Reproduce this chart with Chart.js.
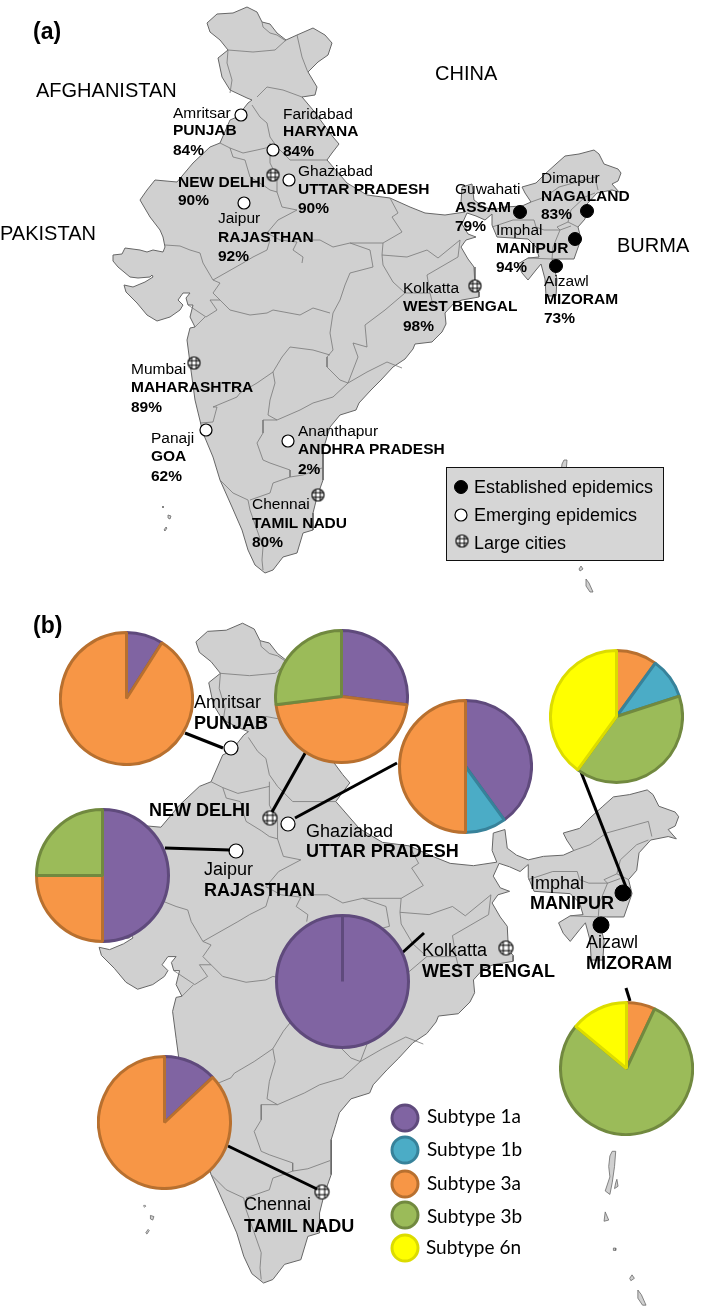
<!DOCTYPE html>
<html>
<head>
<meta charset="utf-8">
<title>HCV subtypes in India</title>
<script src="https://cdn.jsdelivr.net/npm/chart.js@4"></script>
<style>
  body { margin: 0; background: #fff; }
  #page { position: relative; width: 709px; height: 1311px; overflow: hidden; }
  canvas { position: absolute; }
  .txt { position: absolute; white-space: nowrap; line-height: 1; color: #000; font-family: "Liberation Sans", Arial, sans-serif; z-index: 5; }
  #keyBox { position: absolute; left: 446px; top: 467px; width: 216px; height: 92px; background: #d6d6d6; border: 1px solid #111; z-index: 2; }
</style>
</head>
<body>
<div id="page"><div id="keyBox"></div></div>
<script>
// pie values, % of samples, listed clockwise from 12 o'clock
const subtypes = ["Subtype 1a", "Subtype 1b", "Subtype 3a", "Subtype 3b", "Subtype 6n"];
const punjabTypes = ["Subtype 1a", "Subtype 3a"];
const punjabShares = [9, 91];
const delhiTypes = ["Subtype 1a", "Subtype 3a", "Subtype 3b"];
const delhiShares = [27, 46, 27];
const uttarTypes = ["Subtype 1a", "Subtype 1b", "Subtype 3a"];
const uttarShares = [40, 10, 50];
const manipurTypes = ["Subtype 3a", "Subtype 1b", "Subtype 3b", "Subtype 6n"];
const manipurShares = [10, 10, 40, 40];
const rajasthanTypes = ["Subtype 1a", "Subtype 3a", "Subtype 3b"];
const rajasthanShares = [50, 25, 25];
const bengalTypes = ["Subtype 1a"];
const bengalShares = [100];
const tamilTypes = ["Subtype 1a", "Subtype 3a"];
const tamilShares = [13, 87];
const mizoramTypes = ["Subtype 3a", "Subtype 3b", "Subtype 6n"];
const mizoramShares = [7, 79, 14];

const subtypeFill = ["#8064a2", "#4bacc6", "#f79646", "#9bbb59", "#ffff00"];
const subtypeEdge = ["#5f4a7c", "#37829a", "#b8702f", "#71893f", "#dcdc00"];

// map outline
const indiaOutline = [
  [207,23],[217,14],[233,13],[247,7],[257,12],[262,22],[270,24],[277,33],[286,40],[297,35],[313,28],[325,35],[332,43],
  [328,55],[318,62],[308,72],[317,87],[315,95],[302,97],[313,110],[333,137],[339,144],[332,153],[327,160],[347,183],
  [367,195],[390,198],[410,207],[425,213],[445,215],[465,212],[461,202],[462,187],[472,184],[474,200],[482,206],[492,210],
  [505,207],[522,206],[531,202],[525,193],[522,187],[536,183],[545,174],[556,164],[565,156],[579,154],[594,150],[599,154],
  [604,164],[618,169],[621,173],[618,181],[612,184],[619,192],[612,190],[597,193],[587,204],[585,219],[578,227],[581,239],
  [574,259],[559,259],[552,259],[557,279],[556,296],[546,296],[545,279],[541,264],[536,270],[528,280],[522,273],[518,264],
  [528,258],[539,257],[536,247],[528,239],[497,237],[492,225],[492,214],[485,220],[476,216],[467,213],[462,224],[468,234],
  [476,237],[466,240],[461,247],[468,259],[474,267],[475,287],[479,292],[479,297],[462,300],[454,303],[445,313],[446,324],
  [442,332],[432,342],[415,344],[413,349],[405,359],[393,367],[381,380],[371,390],[359,403],[356,410],[340,415],[330,427],
  [327,437],[323,450],[323,467],[323,480],[317,497],[313,513],[313,530],[303,533],[300,543],[297,553],[283,557],[273,570],
  [265,573],[255,565],[248,550],[242,530],[232,507],[220,480],[213,457],[203,433],[195,400],[190,363],[187,340],[190,328],
  [195,327],[190,317],[193,305],[188,305],[186,298],[190,293],[183,293],[178,300],[183,305],[180,310],[170,317],[157,321],
  [147,315],[137,303],[126,292],[124,285],[133,287],[145,282],[153,277],[152,275],[150,277],[138,278],[130,277],[118,267],
  [113,261],[113,255],[122,254],[125,248],[140,250],[147,252],[153,250],[163,252],[165,247],[163,237],[160,230],[150,217],
  [140,200],[147,190],[155,180],[177,182],[193,163],[210,147],[220,143],[230,120],[237,117],[248,103],[252,100],[247,98],
  [230,90],[222,77],[218,58],[228,50],[220,40],[210,32],[207,23]
];

const stateBorders = [
  [[228,50],[253,52],[275,50],[286,40]],
  [[262,22],[263,27],[270,33],[277,35],[286,41]],
  [[228,50],[227,63],[232,80],[230,93]],
  [[297,35],[302,57],[307,70],[308,72]],
  [[257,97],[267,87],[283,90],[302,97]],
  [[252,105],[260,117],[267,123],[270,137],[277,147]],
  [[220,143],[230,148],[243,153],[257,150],[270,147]],
  [[230,148],[233,157],[245,160],[250,177],[263,185],[270,190],[277,192],[277,177],[270,163],[270,143]],
  [[277,147],[290,160],[327,160]],
  [[277,192],[282,207],[297,210],[278,220],[267,233],[280,240],[297,242],[293,250],[303,257],[302,263]],
  [[165,245],[180,246],[190,250],[200,253],[203,263],[213,280],[220,283],[213,293],[220,300]],
  [[213,280],[243,263],[253,257],[267,250],[270,240]],
  [[303,240],[320,240],[333,247],[350,243],[370,250],[373,267],[350,273],[345,285],[340,300]],
  [[390,198],[398,213],[392,217],[402,232],[383,243],[382,255]],
  [[350,243],[383,243]],
  [[382,255],[407,257],[427,250],[438,258],[460,240]],
  [[460,240],[458,257],[427,275],[430,293],[433,305]],
  [[382,255],[383,265],[393,282],[405,293],[385,310],[365,325],[367,347],[353,343],[358,357],[348,383]],
  [[430,293],[405,293]],
  [[340,300],[333,313],[330,333],[333,350],[327,357],[327,367],[340,380],[348,383]],
  [[220,300],[230,310],[250,315],[267,313],[273,310],[300,315],[313,308],[330,313]],
  [[188,305],[206,317],[217,310],[210,300],[220,300]],
  [[195,327],[205,317]],
  [[348,383],[367,372],[387,362],[402,368]],
  [[348,383],[333,397],[313,403],[300,410],[277,420],[263,420],[263,433],[257,443],[263,460],[270,463],[290,470],[290,477],[273,483],[270,493],[250,500]],
  [[290,477],[303,475],[322,468]],
  [[213,407],[237,397],[240,393],[257,383],[273,372],[275,383],[270,400],[268,415],[277,420]],
  [[200,423],[213,422],[217,407],[213,407]],
  [[273,372],[282,357],[290,347],[313,350],[330,355]],
  [[220,480],[233,493],[248,500],[250,510],[263,547],[262,560],[263,570]],
  [[531,202],[545,197],[559,187],[577,182],[595,177],[598,190]],
  [[492,227],[513,220],[534,220],[536,227],[544,230],[560,230]],
  [[595,193],[585,197],[571,210],[568,222],[578,227]],
  [[568,222],[557,227],[560,230],[553,247],[552,259]],
  [[560,230],[571,226]],
  [[528,258],[552,259]]
];

const islands = [
  [[163,506],[164,507],[163,508],[162,507],[163,506]],
  [[168,515],[171,516],[170,519],[168,518],[168,515]],
  [[166,527],[167,528],[165,531],[164,530],[166,527]],
  [[564,460],[567,460],[566,473],[564,487],[562,497],[558,494],[562,482],[561,473],[562,464],[564,460]],
  [[568,484],[569,490],[566,492],[567,487],[568,484]],
  [[558,512],[561,519],[557,520],[558,512]],
  [[565,543],[567,543],[567,545],[565,545],[565,543]],
  [[581,566],[583,569],[580,571],[579,569],[581,566]],
  [[586,579],[589,583],[593,592],[590,592],[586,586],[586,579]]
];

// markers, page pixels
const emergingSites = [[241,115],[273,150],[289,180],[244,203],[206,430],[288,441],[231,748],[288,824],[236,851]];
const establishedSites = [[520,212],[587,211],[575,239],[556,266],[623,893],[601,925]];
const citySites = [[273,175],[475,286],[194,363],[318,495],[270,818],[506,948],[322,1192]];
const pieLeaders = [
  [[185,733],[223,748]],
  [[308,748],[272,812]],
  [[397,763],[295,818]],
  [[165,848],[230,850]],
  [[402,953],[424,933]],
  [[581,772],[626,887]],
  [[626,988],[630,1001]],
  [[228,1146],[317,1189]]
];
const keyDotsA = { established: [[461,487]], emerging: [[461,515]], city: [[462,541]] };
const keyDotsB = [[405,1118],[405,1150],[405,1184],[405,1215],[405,1248]];

// label text: [text, x, baseline, bold]
const labelsA = [
  ["Amritsar",173,118],["PUNJAB",173,135,1],["84%",173,155,1],
  ["Faridabad",283,119],["HARYANA",283,136,1],["84%",283,156,1],
  ["NEW DELHI",178,187,1],["90%",178,205,1],
  ["Ghaziabad",298,176],["UTTAR PRADESH",298,194,1],["90%",298,213,1],
  ["Jaipur",218,223],["RAJASTHAN",218,242,1],["92%",218,261,1],
  ["Guwahati",455,194],["ASSAM",455,212,1],["79%",455,231,1],
  ["Dimapur",541,183],["NAGALAND",541,201,1],["83%",541,219,1],
  ["Imphal",496,235],["MANIPUR",496,253,1],["94%",496,272,1],
  ["Aizawl",544,286],["MIZORAM",544,304,1],["73%",544,323,1],
  ["Kolkatta",403,293],["WEST BENGAL",403,311,1],["98%",403,331,1],
  ["Mumbai",131,374],["MAHARASHTRA",131,392,1],["89%",131,412,1],
  ["Panaji",151,443],["GOA",151,461,1],["62%",151,481,1],
  ["Ananthapur",298,436],["ANDHRA PRADESH",298,454,1],["2%",298,474,1],
  ["Chennai",252,509],["TAMIL NADU",252,528,1],["80%",252,547,1]
];
const countryLabels = [["AFGHANISTAN",36,97],["CHINA",435,80],["PAKISTAN",0,240],["BURMA",617,252]];
const keyLabelsA = [["Established epidemics",474,493],["Emerging epidemics",474,521],["Large cities",474,549]];
const labelsB = [
  ["Amritsar",194,708],["PUNJAB",194,729,1],["NEW DELHI",149,816,1],
  ["Ghaziabad",306,837],["UTTAR PRADESH",306,857,1],
  ["Jaipur",204,875],["RAJASTHAN",204,896,1],
  ["Imphal",530,889],["MANIPUR",530,909,1],
  ["Aizawl",586,948],["MIZORAM",586,969,1],
  ["Kolkatta",422,956],["WEST BENGAL",422,977,1],
  ["Chennai",244,1210],["TAMIL NADU",244,1232,1]
];
const keyLabelsB = [[subtypes[0],427,1123],[subtypes[1],427,1156],[subtypes[2],427,1190],[subtypes[3],427,1223],[subtypes[4],426,1254]];

const page = document.getElementById("page");

function addCanvas(left, top, width, height, z) {
  const c = document.createElement("canvas");
  c.width = width;
  c.height = height;
  c.style.left = left + "px";
  c.style.top = top + "px";
  c.style.width = width + "px";
  c.style.height = height + "px";
  c.style.zIndex = z;
  page.appendChild(c);
  return c;
}

function toPoints(list) {
  return list.map((p) => ({ x: p[0], y: p[1] }));
}

function addText(list, size, opts) {
  opts = opts || {};
  const shift = opts.shift || 0.8465;
  list.forEach((t) => {
    const d = document.createElement("div");
    d.className = "txt";
    d.textContent = t[0];
    d.style.left = t[1] + "px";
    d.style.top = t[2] - shift * size + "px";
    d.style.fontSize = size + "px";
    if (t[3]) d.style.fontWeight = "bold";
    if (opts.font) d.style.fontFamily = opts.font;
    page.appendChild(d);
  });
}

const hiddenAxis = (min, max, reverse) => ({ type: "linear", display: false, min, max, reverse: !!reverse });
const flatOptions = (xMin, xMax, yMin, yMax) => ({
  responsive: false,
  animation: false,
  events: [],
  layout: { padding: 0, autoPadding: false },
  plugins: { legend: { display: false }, tooltip: { enabled: false } },
  scales: { x: hiddenAxis(xMin, xMax), y: hiddenAxis(yMin, yMax, true) },
});

function mapDatasets() {
  const sets = [];
  islands.forEach((isle) => {
    sets.push({ data: toPoints(isle), showLine: true, fill: "shape", backgroundColor: "#d0d0d0", borderColor: "#6a6a6a", borderWidth: 0.8, pointRadius: 0 });
  });
  stateBorders.forEach((b) => {
    sets.push({ data: toPoints(b), showLine: true, fill: false, borderColor: "#777", borderWidth: 0.8, pointRadius: 0 });
  });
  sets.push({ data: toPoints(indiaOutline), showLine: true, fill: "shape", backgroundColor: "#d0d0d0", borderColor: "#666", borderWidth: 1, pointRadius: 0 });
  return sets;
}

// the same outline goes through two sets of axis limits, panel (b) is just zoomed in
new Chart(addCanvas(0, 0, 709, 600, 1), { type: "scatter", data: { datasets: mapDatasets() }, options: flatOptions(0, 709, 0, 600) });
new Chart(addCanvas(0, 600, 709, 711, 1), { type: "scatter", data: { datasets: mapDatasets() }, options: flatOptions(39, 647, -12.9, 597) });

function cityIcon(r) {
  const size = 2 * r + 3;
  const c = document.createElement("canvas");
  c.width = size;
  c.height = size;
  const g = c.getContext("2d");
  const m = size / 2;
  g.beginPath();
  g.arc(m, m, r, 0, Math.PI * 2);
  g.fillStyle = "#fff";
  g.fill();
  g.save();
  g.clip();
  g.strokeStyle = "#000";
  g.lineWidth = 1;
  [-r / 2.6, r / 2.6].forEach((o) => {
    g.beginPath(); g.moveTo(m + o, 0); g.lineTo(m + o, size); g.stroke();
    g.beginPath(); g.moveTo(0, m + o); g.lineTo(size, m + o); g.stroke();
  });
  g.restore();
  g.beginPath();
  g.arc(m, m, r, 0, Math.PI * 2);
  g.lineWidth = 1.2;
  g.stroke();
  return c;
}

function dotSet(list, fill, edge, radiusA, radiusB, width) {
  return {
    data: toPoints(list),
    pointStyle: "circle",
    pointBackgroundColor: fill,
    pointBorderColor: edge,
    pointBorderWidth: width,
    pointRadius: (ctx) => (ctx.raw && ctx.raw.y > 600 ? radiusB : radiusA),
    showLine: false,
  };
}

const iconA = cityIcon(6);
const iconB = cityIcon(7);

const markSets = [];
pieLeaders.forEach((l) => {
  markSets.push({ data: toPoints(l), showLine: true, borderColor: "#000", borderWidth: 3, pointRadius: 0, fill: false });
});
markSets.push(dotSet(emergingSites, "#fff", "#000", 6, 7, 1.2));
markSets.push(dotSet(establishedSites, "#000", "#000", 6.5, 8, 1));
markSets.push({
  data: toPoints(citySites.concat(keyDotsA.city)),
  pointStyle: (ctx) => (ctx.raw && ctx.raw.y > 600 ? iconB : iconA),
  showLine: false,
});
markSets.push(dotSet(keyDotsA.established, "#000", "#000", 6.5, 7, 1));
markSets.push(dotSet(keyDotsA.emerging, "#fff", "#000", 6, 6, 1.2));
keyDotsB.forEach((p, i) => {
  markSets.push(dotSet([p], subtypeFill[i], subtypeEdge[i], 13, 13, 3));
});
new Chart(addCanvas(0, 0, 709, 1311, 3), { type: "scatter", data: { datasets: markSets }, options: flatOptions(0, 709, 0, 1311) });

function addPie(types, shares, cx, cy, r) {
  const size = 2 * r + 3;
  const fills = types.map((t) => subtypeFill[subtypes.indexOf(t)]);
  const edges = types.map((t) => subtypeEdge[subtypes.indexOf(t)]);
  new Chart(addCanvas(cx - size / 2, cy - size / 2, size, size, 4), {
    type: "pie",
    data: {
      labels: types,
      datasets: [{ data: shares, backgroundColor: fills, borderColor: edges, borderWidth: 3, borderAlign: "center" }],
    },
    options: {
      responsive: false,
      animation: false,
      events: [],
      layout: { padding: 0 },
      plugins: { legend: { display: false }, tooltip: { enabled: false } },
    },
  });
}

addPie(punjabTypes, punjabShares, 126, 698, 66);
addPie(delhiTypes, delhiShares, 341, 696, 66);
addPie(uttarTypes, uttarShares, 465, 766, 66);
addPie(manipurTypes, manipurShares, 616, 716, 66);
addPie(rajasthanTypes, rajasthanShares, 102, 875, 66);
addPie(bengalTypes, bengalShares, 342, 981, 66);
addPie(tamilTypes, tamilShares, 164, 1122, 66);
addPie(mizoramTypes, mizoramShares, 626, 1068, 66);

addText([["(a)",33,39,1],["(b)",33,633,1]], 23);
addText(countryLabels, 20);
addText(labelsA, 15.5);
addText(keyLabelsA, 18);
addText(labelsB, 18);
addText(keyLabelsB, 19, { font: "Lato, sans-serif", shift: 0.887 });
</script>
</body>
</html>
